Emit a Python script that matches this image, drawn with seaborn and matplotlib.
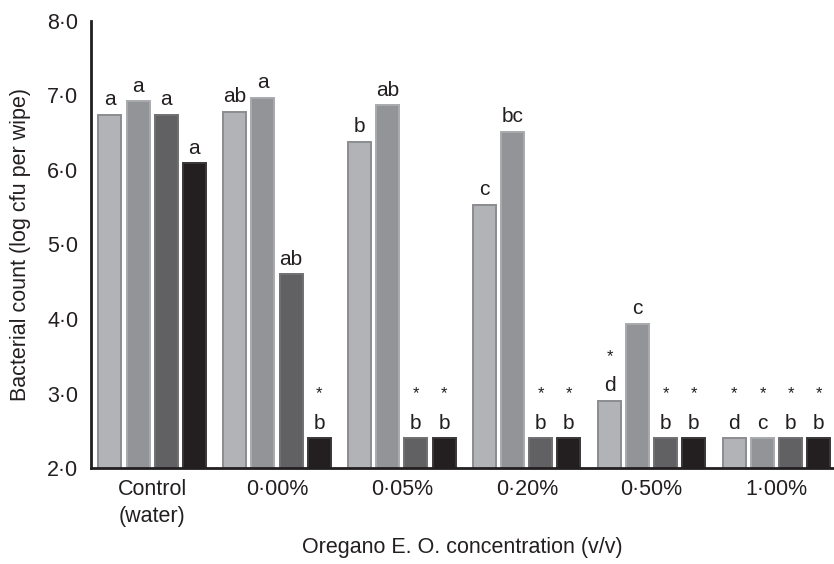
import pandas as pd
import numpy as np
import matplotlib.pyplot as plt
import seaborn as sns

# Data
concentrations = ['Control\n(water)', '0·00%', '0·05%', '0·20%', '0·50%', '1·00%']
series = ['S1', 'S2', 'S3', 'S4']
s1_values = [6.74, 6.78, 6.38, 5.53, 2.90, 2.40]
s2_values = [6.92, 6.97, 6.87, 6.51, 3.94, 2.40]
s3_values = [6.74, 4.60, 2.40, 2.40, 2.40, 2.40]
s4_values = [6.09, 2.40, 2.40, 2.40, 2.40, 2.40]
s1_letters = ['a', 'ab', 'b', 'c', 'd', 'd']
s2_letters = ['a', 'a', 'ab', 'bc', 'c', 'c']
s3_letters = ['a', 'ab', 'b', 'b', 'b', 'b']
s4_letters = ['a', 'b', 'b', 'b', 'b', 'b']
s1_star = [False, False, False, False, True, True]
s2_star = [False, False, False, False, False, True]
s3_star = [False, False, True, True, True, True]
s4_star = [False, True, True, True, True, True]
yticks = [2, 3, 4, 5, 6, 7, 8]
ytick_labels = ['2·0', '3·0', '4·0', '5·0', '6·0', '7·0', '8·0']

face_colors = ['#b2b3b7', '#939498', '#616163', '#231f20']
edge_colors = ['#8b8c90', '#a9aaae', '#707072', '#3a3738']

all_values = [s1_values, s2_values, s3_values, s4_values]
all_letters = [s1_letters, s2_letters, s3_letters, s4_letters]
all_stars = [s1_star, s2_star, s3_star, s4_star]

df = pd.DataFrame({
    'Concentration': np.repeat([concentrations], len(series), axis=0).ravel(),
    'Series': np.repeat(series, len(concentrations)),
    'Count': np.concatenate(all_values),
})

sns.set_style('white')
plt.rcParams['font.family'] = ['Liberation Sans', 'DejaVu Sans']

fig = plt.figure(figsize=(8.34, 5.64), dpi=100)
ax = fig.add_axes([0.109, 0.170, 0.891, 0.793])

sns.barplot(data=df, x='Concentration', y='Count', hue='Series',
            order=concentrations, hue_order=series, palette=face_colors,
            width=0.9, gap=0.18, legend=False, ax=ax, saturation=1)

for i, cont in enumerate(ax.containers):
    for j, bar in enumerate(cont):
        bar.set_edgecolor(edge_colors[i])
        bar.set_linewidth(1.4)
        xc = bar.get_x() + bar.get_width() / 2
        top = bar.get_height()
        ax.annotate(all_letters[i][j], (xc, top), xytext=(0, 4),
                    textcoords='offset points', ha='center', va='bottom',
                    fontsize=15, color='#231f20')
        if all_stars[i][j]:
            ax.annotate('*', (xc, top), xytext=(0, 32),
                        textcoords='offset points', ha='center', va='center',
                        fontsize=12, color='#231f20')

ax.set_ylim(2, 8)
ax.set_xlim(-0.49, 5.46)
ax.set_yticks(yticks)
ax.set_yticklabels(ytick_labels, fontsize=15.5)
ax.tick_params(axis='x', labelsize=15.5, length=0, pad=8)
ax.tick_params(axis='y', length=0, pad=9)
for lab in ax.get_xticklabels():
    lab.set_color('#231f20')
    lab.set_linespacing(1.35)
for lab in ax.get_yticklabels():
    lab.set_color('#231f20')

ax.set_xlabel('Oregano E. O. concentration (v/v)', fontsize=15.5, labelpad=7,
              color='#231f20')
ax.set_ylabel('Bacterial count (log cfu per wipe)', fontsize=15.5, labelpad=12,
              color='#231f20')

sns.despine(ax=ax)
for side in ['left', 'bottom']:
    ax.spines[side].set_linewidth(2)
    ax.spines[side].set_color('#231f20')

fig.savefig('out.png', dpi=100)
